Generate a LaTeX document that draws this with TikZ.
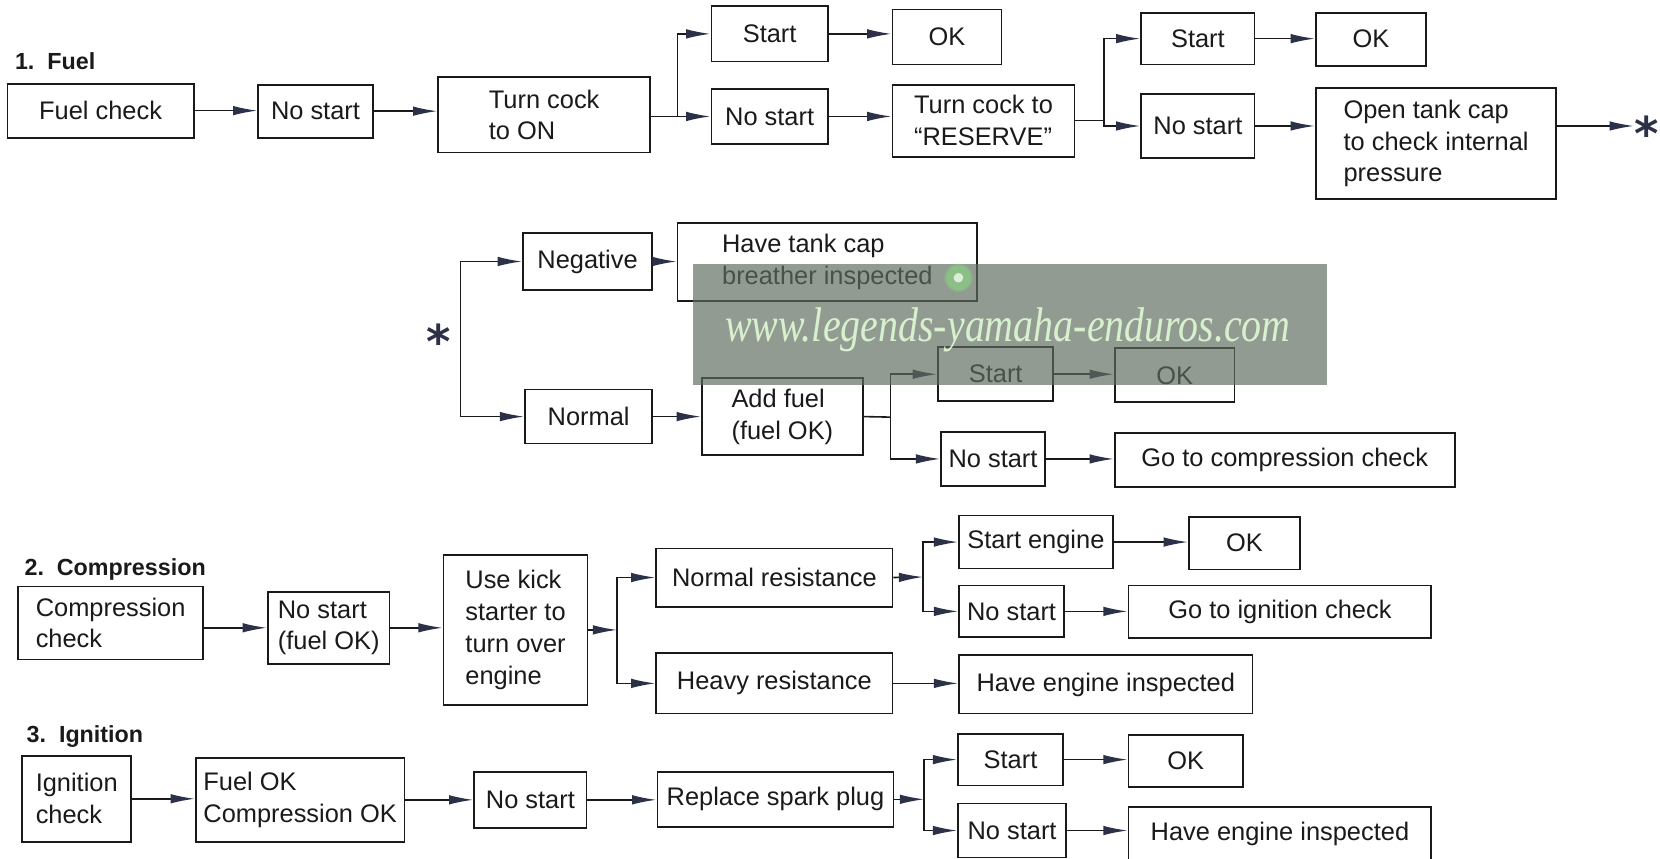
\documentclass[tikz,border=0pt]{standalone}
\usepackage{fontspec}
\setmainfont{Liberation Sans}
\newfontfamily\wmfont{Liberation Serif}
\newfontfamily\starfont{DejaVu Sans}
\usetikzlibrary{arrows.meta,fadings}
\definecolor{ink}{HTML}{1A1A1A}
\definecolor{headc}{HTML}{2B3147}
\definecolor{wmgray}{RGB}{95,108,95}
\definecolor{wmtext}{RGB}{215,240,205}
\definecolor{wmglow}{RGB}{130,235,120}
\newcommand\mybox[6]{%
\pgfmathsetmacro\bxw{#4-#2}%
\pgfmathsetmacro\bxh{#5-#3}%
\pgfmathsetmacro\bxx{(#2+#4)/2}%
\pgfmathsetmacro\bxy{(#3+#5)/2}%
\node[bx,minimum width=\bxw pt,minimum height=\bxh pt] (#1) at (\bxx,\bxy) {#6};}
\begin{document}
\begin{tikzpicture}[x=1pt,y=-1pt,
 bx/.style={draw=ink,line width=1.7pt,inner sep=2pt,align=left,font=\fontsize{24}{30}\selectfont,text=ink},
 arr/.style={draw=ink,line width=1.5pt,-{Latex[length=23pt,width=9pt,color=headc]}},
 ln/.style={draw=ink,line width=1.5pt},
 ttl/.style={font=\bfseries\fontsize{22}{26}\selectfont,anchor=base west,text=ink,inner sep=0pt},
 stx/.style={font=\starfont\bfseries\fontsize{44}{44}\selectfont,text=headc,inner sep=0pt},
 wm/.style={font=\wmfont\itshape\fontsize{46}{46}\selectfont,xscale=0.82,inner sep=0pt}]
\useasboundingbox[fill=white] (0,0) rectangle (1568,811);

% titles
\node[ttl] (t1) at (14,66) {1.\ \ Fuel};
\node[ttl] (t2) at (23,544) {2.\ \ Compression};
\node[ttl] (t3) at (25,701) {3.\ \ Ignition};

% ---------- row 1
\mybox{fc}{7}{79}{183}{130}{Fuel check}
\mybox{nsa}{244}{80}{352}{130}{No start}
\mybox{tc}{414}{73}{614}{144}{Turn cock\\to ON}
\mybox{sta}{672}{6}{782}{58}{Start}
\mybox{oka}{843}{9}{946}{61}{OK}
\mybox{nsb}{672}{84}{782}{136}{No start}
\mybox{tr}{843}{80}{1015}{148}{Turn cock to\\“RESERVE”}
\mybox{stb}{1078}{12}{1185}{61}{Start}
\mybox{okb}{1243}{12}{1347}{62}{OK}
\mybox{nsc}{1078}{89}{1185}{149}{No start}
\mybox{otc}{1243}{83}{1470}{188}{Open tank cap\\to check internal\\pressure}
\node[stx] (sa) at (1555,126) {*};

\draw[arr] (fc.east) -- (fc.east -| nsa.west);
\draw[arr] (nsa.east) -- (nsa.east -| tc.west);
\coordinate (ja) at (640,110);
\draw[ln] (ja -| tc.east) -- (ja);
\draw[arr] (ja) |- (sta.west);
\draw[arr] (ja) |- (nsb.west);
\draw[arr] (sta.east) -- (sta.east -| oka.west);
\draw[arr] (nsb.east) -- (nsb.east -| tr.west);
\coordinate (jb) at (1043,114);
\draw[ln] (tr.east) -- (jb);
\draw[arr] (jb) |- (stb.west);
\draw[arr] (jb) |- (nsc.west);
\draw[arr] (stb.east) -- (stb.east -| okb.west);
\draw[arr] (nsc.east) -- (nsc.east -| otc.west);
\draw[arr] (nsc.east -| otc.east) -- (nsc.east -| sa.west);

% ---------- row 2
\node[stx] (sb) at (414,322) {*};
\mybox{neg}{494}{220}{616}{274}{Negative}
\mybox{htc}{640}{211}{923}{284}{Have tank cap\\breather inspected}
\mybox{nor}{496}{368}{616}{419}{Normal}
\mybox{af}{663}{357}{815}{430}{Add fuel\\(fuel OK)}
\mybox{stc}{886}{328}{995}{379}{Start}
\mybox{okc}{1053}{329}{1166}{380}{OK}
\mybox{nsd}{889}{408}{987}{459}{No start}
\mybox{gcc}{1053}{409}{1374}{460}{Go to compression check}

\coordinate (jg) at (435,320);
\draw[arr] (jg) |- (neg.west);
\draw[arr] (jg) |- (nor.west);
\draw[arr] (neg.east) -- (neg.east -| htc.west);
\draw[arr] (nor.east) -- (nor.east -| af.west);
\coordinate (jc) at (841,394);
\draw[ln] (af.east) -- (jc);
\draw[arr] (jc) |- (stc.west);
\draw[arr] (jc) |- (nsd.west);
\draw[arr] (stc.east) -- (stc.east -| okc.west);
\draw[arr] (nsd.east) -- (nsd.east -| gcc.west);

% ---------- row 3
\mybox{cc}{17}{554}{192}{623}{Compression\\check}
\mybox{nsf}{253}{559}{368}{627}{No start\\(fuel OK)}
\mybox{uks}{419}{524}{555}{666}{Use kick\\starter to\\turn over\\engine}
\mybox{nr}{620}{518}{843}{573}{Normal resistance}
\mybox{hr}{620}{617}{843}{674}{Heavy resistance}
\mybox{se}{906}{487}{1051}{537}{Start engine}
\mybox{okd}{1123}{488}{1228}{538}{OK}
\mybox{nsg}{906}{553}{1005}{602}{No start}
\mybox{gic}{1066}{553}{1352}{603}{Go to ignition check}
\mybox{hea}{906}{619}{1183}{674}{Have engine inspected}

\draw[arr] (nsf.west -| cc.east) -- (nsf.west);
\draw[arr] (nsf.east) -- (nsf.east -| uks.west);
\coordinate (jd) at (583,595);
\draw[arr] (jd -| uks.east) -- (jd);
\draw[arr] (jd) |- (nr.west);
\draw[arr] (jd) |- (hr.west);
\coordinate (je) at (872,545);
\draw[arr] (nr.east) -- (je);
\draw[arr] (je) |- (se.west);
\draw[arr] (je) |- (nsg.west);
\draw[arr] (se.east) -- (se.east -| okd.west);
\draw[arr] (nsg.east) -- (nsg.east -| gic.west);
\draw[arr] (hr.east) -- (hr.east -| hea.west);

% ---------- row 4
\mybox{ic}{21}{714}{124}{795}{Ignition\\check}
\mybox{fo}{185}{716}{382}{795}{Fuel OK\\Compression OK}
\mybox{nsh}{448}{729}{554}{782}{No start}
\mybox{rsp}{621}{729}{844}{781}{Replace spark plug}
\mybox{ste}{905}{693}{1004}{742}{Start}
\mybox{oke}{1066}{694}{1174}{743}{OK}
\mybox{nsi}{905}{759}{1007}{810}{No start}
\mybox{heb}{1066}{762}{1352}{814}{Have engine inspected}

\draw[arr] (ic.east) -- (ic.east -| fo.west);
\draw[arr] (fo.east) -- (fo.east -| nsh.west);
\draw[arr] (nsh.east) -- (nsh.east -| rsp.west);
\coordinate (jf) at (873,755);
\draw[arr] (rsp.east) -- (jf);
\draw[arr] (jf) |- (ste.west);
\draw[arr] (jf) |- (nsi.west);
\draw[arr] (ste.east) -- (ste.east -| oke.west);
\draw[arr] (nsi.east) -- (nsi.east -| heb.west);

% ---------- watermark overlay
\fill[wmgray,opacity=0.68] (655,249) rectangle (1253,364);
\node[wm,text=wmtext] (wmk) at (952,312) {www.legends-yamaha-enduros.com};
\fill[wmglow,opacity=0.45,path fading=circle with fuzzy edge 20 percent] (905,262) circle (14);
\fill[white,opacity=0.7,path fading=circle with fuzzy edge 20 percent] (905,262) circle (5);
\end{tikzpicture}
\end{document}
